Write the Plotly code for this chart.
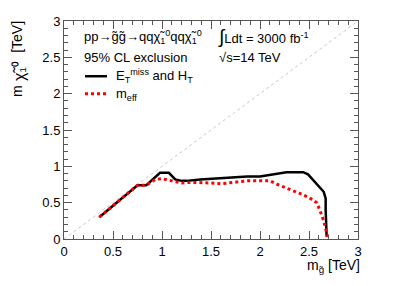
import plotly.graph_objects as go

# Data
etmiss_ht_x = [0.36, 0.75, 0.84, 0.98, 1.07, 1.135, 1.2, 1.25, 1.39, 1.52, 1.7, 1.87, 2.0, 2.1,
               2.2, 2.27, 2.35, 2.44, 2.49, 2.54, 2.6, 2.65, 2.67, 2.67, 2.68]
etmiss_ht_y = [0.30, 0.74, 0.74, 0.91, 0.91, 0.82, 0.80, 0.80, 0.82, 0.83, 0.85, 0.86, 0.86, 0.88,
               0.90, 0.92, 0.92, 0.92, 0.89, 0.81, 0.73, 0.65, 0.56, 0.40, 0.03]

meff_x = [0.36, 0.75, 0.84, 0.93, 1.0, 1.07, 1.135, 1.2, 1.3, 1.39, 1.5, 1.6, 1.75, 1.87, 2.0,
          2.1, 2.18, 2.3, 2.4, 2.5, 2.58, 2.61, 2.65, 2.69]
meff_y = [0.30, 0.74, 0.74, 0.82, 0.83, 0.81, 0.79, 0.77, 0.78, 0.78, 0.77, 0.76, 0.78, 0.80, 0.80,
          0.80, 0.75, 0.69, 0.63, 0.57, 0.50, 0.40, 0.25, 0.03]

diag_x = [0, 3]
diag_y = [0, 3]

x_tickvals = [0, 0.5, 1, 1.5, 2, 2.5, 3]
x_ticktext = ["0", "0.5", "1", "1.5", "2", "2.5", "3"]
y_tickvals = [0, 0.5, 1, 1.5, 2, 2.5, 3]
y_ticktext = ["0", "0.5", "1", "1.5", "2", "2.5", "3"]

series_names = ["E<sub>T</sub><sup>miss</sup> and H<sub>T</sub>", "m<sub>eff</sub>"]
series_colors = ["black", "#ff0000"]

FONT = "Liberation Sans, Arial, Helvetica, sans-serif"

# page body has an 8px margin; figure is sized/placed to compensate
OFF = 8
W, H = 399 - 2 * OFF, 286 - 2 * OFF
L, R, T, B = 64 - OFF, 399 - 358 - OFF, 14 - OFF, 286 - 239 - OFF

fig = go.Figure()
fig.add_trace(go.Scatter(x=diag_x, y=diag_y, mode="lines", showlegend=False,
                         line=dict(color="#c8c8c8", width=1, dash="dot"), hoverinfo="skip"))
fig.add_trace(go.Scatter(x=etmiss_ht_x, y=etmiss_ht_y, mode="lines", name=series_names[0],
                         showlegend=False, line=dict(color=series_colors[0], width=2.5)))
fig.add_trace(go.Scatter(x=meff_x, y=meff_y, mode="lines", name=series_names[1],
                         showlegend=False, line=dict(color=series_colors[1], width=3, dash="dot")))

axis_common = dict(
    showline=True, linecolor="#555555", linewidth=1, mirror="ticks",
    ticks="inside", ticklen=8, tickcolor="#555555", tickwidth=1,
    showgrid=False, zeroline=False, ticklabeloverflow="allow",
    tickfont=dict(family=FONT, size=13, color="black"),
    minor=dict(ticks="inside", ticklen=4, dtick=0.1, tickcolor="#555555", tickwidth=1, showgrid=False),
)

fig.update_xaxes(range=[0, 3], tickvals=x_tickvals, ticktext=x_ticktext, **axis_common)
fig.update_yaxes(range=[0, 3], tickvals=y_tickvals, ticktext=y_ticktext, **axis_common)

def px2paper_x(px):
    return (px - 64) / (358 - 64)

def px2paper_y(py):
    return (239 - py) / (239 - 14)

ann_font = dict(family=FONT, size=13, color="black")
annotations = [
    dict(text="pp→g̃g̃→qqχ̃<sub>1</sub><sup>0</sup>qqχ̃<sub>1</sub><sup>0</sup>",
         x=px2paper_x(82), y=px2paper_y(31), xanchor="left", yanchor="middle"),
    dict(text="95% CL exclusion", x=px2paper_x(82), y=px2paper_y(52), xanchor="left", yanchor="middle"),
    dict(text="<span style='font-size:19px'>∫</span>Ldt = 3000 fb<sup>-1</sup>",
         x=px2paper_x(216), y=px2paper_y(31), xanchor="left", yanchor="middle"),
    dict(text="√s=14 TeV", x=px2paper_x(217), y=px2paper_y(52), xanchor="left", yanchor="middle"),
    dict(text="m<sub>g̃</sub> [TeV]", x=px2paper_x(362), y=px2paper_y(267), xanchor="right", yanchor="middle",
         font=dict(family=FONT, size=14, color="black")),
    dict(text="m<sub><span style='font-size:16px'> χ̃₁⁰ </span></sub> [TeV]", x=px2paper_x(18), y=px2paper_y(12),
         xanchor="center", yanchor="top", textangle=-90, font=dict(family=FONT, size=14, color="black")),
    # legend labels
    dict(text=series_names[0], x=px2paper_x(114), y=px2paper_y(71), xanchor="left", yanchor="middle"),
    dict(text=series_names[1], x=px2paper_x(114), y=px2paper_y(90), xanchor="left", yanchor="middle"),
]
for a in annotations:
    a.setdefault("font", ann_font)
    a["xref"] = "paper"
    a["yref"] = "paper"
    a["showarrow"] = False

shapes = [
    dict(type="line", xref="paper", yref="paper", x0=px2paper_x(85), x1=px2paper_x(107),
         y0=px2paper_y(71), y1=px2paper_y(71), line=dict(color=series_colors[0], width=2.5)),
    dict(type="line", xref="paper", yref="paper", x0=px2paper_x(85), x1=px2paper_x(107),
         y0=px2paper_y(89), y1=px2paper_y(89), line=dict(color=series_colors[1], width=3, dash="dot")),
]

fig.update_layout(
    width=W, height=H,
    margin=dict(l=L, r=R, t=T, b=B),
    paper_bgcolor="white", plot_bgcolor="white",
    font=dict(family=FONT, size=13, color="black"),
    annotations=annotations,
    shapes=shapes,
    showlegend=False,
)

fig.write_html("out.html")
